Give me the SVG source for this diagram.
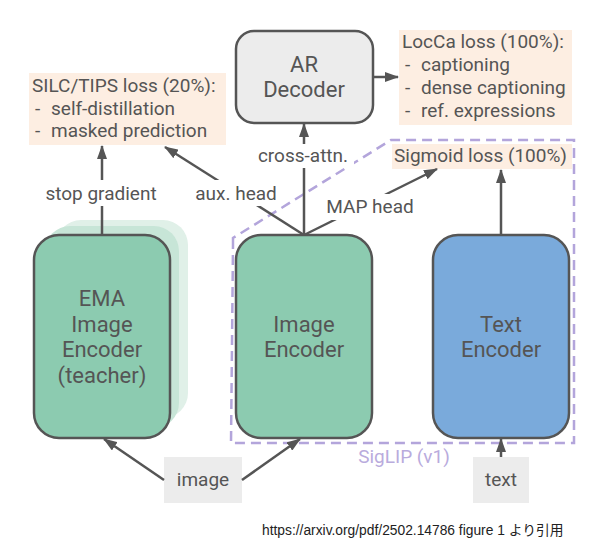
<svg xmlns="http://www.w3.org/2000/svg" width="594" height="557" viewBox="0 0 594 557">
<defs>
<marker id="ah" viewBox="0 0 14 10" refX="13" refY="5" markerWidth="5.6" markerHeight="4" markerUnits="strokeWidth" orient="auto">
<path d="M0,0 L14,5 L0,10 z" fill="#555"/>
</marker>
<style>
text{font-family:Roboto,"Liberation Sans",sans-serif;fill:#555}
.node{font-size:22px;text-anchor:middle}
.lbl{font-size:19px}
.box{stroke:#555;stroke-width:2.5}
.conn{stroke:#555;stroke-width:2.5;fill:none;marker-end:url(#ah)}
.loss{fill:#fdeee2}
.inp{fill:#ececec}
</style>
</defs>
<rect width="594" height="557" fill="#fff"/>

<g id="siglip">
<path d="M233,245 L233,238 L391,140 L574,140 L574,443 L231,443 Z" fill="none" stroke="#b3a5db" stroke-width="2.5" stroke-dasharray="10,6"/>
<text x="404" y="463" font-size="19" text-anchor="middle" style="fill:#b9abdd">SigLIP (v1)</text>
</g>

<g id="ema">
<rect x="56" y="220" width="132" height="198" rx="25" fill="#e0f0e8"/>
<rect x="45" y="226" width="134" height="202" rx="25" fill="#c7e5d7"/>
<rect x="34" y="235" width="136" height="203" rx="25" fill="#8ccbb0" class="box"/>
<text class="node" x="102" y="306">EMA</text>
<text class="node" x="102" y="332">Image</text>
<text class="node" x="102" y="357">Encoder</text>
<text class="node" x="102" y="383">(teacher)</text>
</g>

<g id="imgenc">
<rect x="236" y="235" width="136" height="203" rx="25" fill="#8ccbb0" class="box"/>
<text class="node" x="304" y="332">Image</text>
<text class="node" x="304" y="357">Encoder</text>
</g>

<g id="txtenc">
<rect x="433" y="235" width="136" height="203" rx="25" fill="#7aaadb" class="box"/>
<text class="node" x="501" y="332">Text</text>
<text class="node" x="501" y="357">Encoder</text>
</g>

<g id="ardec">
<rect x="236" y="31" width="137" height="92" rx="18" fill="#ececec" class="box"/>
<text class="node" x="304" y="72">AR</text>
<text class="node" x="304" y="97">Decoder</text>
</g>

<g id="silc">
<rect x="29" y="73" width="197" height="72" class="loss"/>
<text class="lbl" x="32" y="92">SILC/TIPS loss (20%):</text>
<text class="lbl" x="35" y="115"><tspan>-</tspan><tspan x="51">self-distillation</tspan></text>
<text class="lbl" x="35" y="137"><tspan>-</tspan><tspan x="51">masked prediction</tspan></text>
</g>

<g id="locca">
<rect x="399" y="30" width="173" height="95" class="loss"/>
<text class="lbl" x="402" y="48">LocCa loss (100%):</text>
<text class="lbl" x="405" y="71"><tspan>-</tspan><tspan x="421">captioning</tspan></text>
<text class="lbl" x="405" y="94"><tspan>-</tspan><tspan x="421">dense captioning</tspan></text>
<text class="lbl" x="405" y="117"><tspan>-</tspan><tspan x="421">ref. expressions</tspan></text>
</g>

<g id="sigmoid">
<rect x="392" y="144" width="180" height="25" class="loss"/>
<text class="lbl" x="394" y="162">Sigmoid loss (100%)</text>
</g>

<g id="image">
<rect x="164" y="457" width="78" height="46" class="inp"/>
<text class="lbl" x="203" y="486" text-anchor="middle">image</text>
</g>

<g id="text">
<rect x="473" y="457" width="56" height="46" class="inp"/>
<text class="lbl" x="501" y="486" text-anchor="middle">text</text>
</g>

<g id="connectors">
<line class="conn" x1="102" y1="235" x2="102" y2="146"/>
<line class="conn" x1="304" y1="235" x2="165" y2="147"/>
<line class="conn" x1="304" y1="235" x2="304" y2="124"/>
<line class="conn" x1="304" y1="235" x2="437" y2="169"/>
<line class="conn" x1="501" y1="235" x2="501" y2="170"/>
<line class="conn" x1="373" y1="77" x2="398" y2="77"/>
<line class="conn" x1="164" y1="480" x2="104" y2="439"/>
<line class="conn" x1="242" y1="480" x2="300" y2="439"/>
<line class="conn" x1="501" y1="457" x2="501" y2="439"/>
<rect x="40" y="180" width="122" height="26" fill="#fff"/>
<text class="lbl" x="101" y="200" text-anchor="middle">stop gradient</text>
<rect x="190" y="180" width="91" height="26" fill="#fff"/>
<text class="lbl" x="236" y="200" text-anchor="middle">aux. head</text>
<rect x="254" y="144" width="100" height="24" fill="#fff"/>
<text class="lbl" x="303" y="162" text-anchor="middle">cross-attn.</text>
<rect x="323" y="194" width="94" height="26" fill="#fff"/>
<text class="lbl" x="370" y="213" text-anchor="middle">MAP head</text>
</g>

<text x="262" y="535" font-size="13.8" style="fill:#222;font-family:'Liberation Sans','Noto Sans CJK JP',sans-serif">https://arxiv.org/pdf/2502.14786 figure 1 より引用</text>
</svg>
